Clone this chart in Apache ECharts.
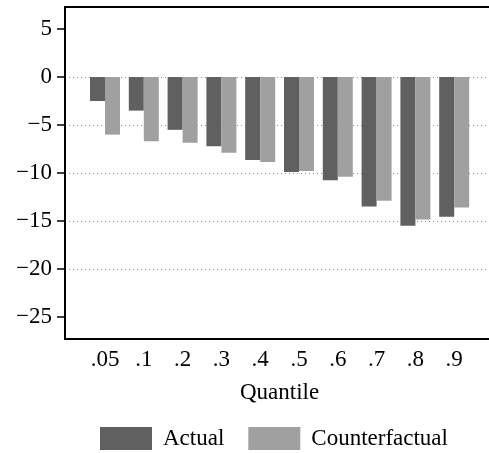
<!DOCTYPE html>
<html>
<head>
<meta charset="utf-8">
<script src="https://cdn.jsdelivr.net/npm/echarts@6/dist/echarts.min.js"></script>
<style>
  html, body { margin: 0; padding: 0; background: #fff; }
  #chart { width: 489px; height: 453px; }
</style>
</head>
<body>
<div id="chart"></div>
<script>
// quantile categories and the two series
const quantiles = ['.05', '.1', '.2', '.3', '.4', '.5', '.6', '.7', '.8', '.9']
const actual = [-2.5, -3.5, -5.5, -7.2, -8.65, -9.9, -10.75, -13.5, -15.5, -14.55]
const counterfactual = [-6.0, -6.7, -6.85, -7.9, -8.85, -9.8, -10.4, -12.9, -14.85, -13.6]
// y range of the plot region, tick range, gridline range
const yRange = [-27.3, 7.3]
const tickRange = [-25, 5]
const gridlineRange = [-20, 0]
const tickStep = 5

const font = "'Liberation Serif', 'Times New Roman', serif"
const chart = echarts.init(document.getElementById('chart'))

const blackLine = { show: true, lineStyle: { color: '#000', width: 2 } }
const hidden = { show: false }
const minus = v => String(v).replace('-', '\u2212')

const option = {
  animation: false,
  textStyle: { fontFamily: font },
  grid: [
    // frame
    { left: 65, right: -10, top: 7, bottom: 114, outerBoundsMode: 'none' },
    // tick labels
    { left: 65, right: -10, top: 29, height: 288, outerBoundsMode: 'none' },
    // dotted gridlines
    { left: 65, right: -10, top: 77, height: 192, outerBoundsMode: 'none' },
    // bars
    { left: 85.6, width: 388, top: 7, bottom: 114, outerBoundsMode: 'none' }
  ],
  xAxis: [
    { gridIndex: 0, type: 'value', position: 'bottom', min: 0, max: 1, axisLine: blackLine, axisTick: hidden, axisLabel: hidden, splitLine: hidden },
    { gridIndex: 0, type: 'value', position: 'top', min: 0, max: 1, axisLine: blackLine, axisTick: hidden, axisLabel: hidden, splitLine: hidden },
    { gridIndex: 1, type: 'value', show: false },
    { gridIndex: 2, type: 'value', show: false },
    {
      gridIndex: 3, type: 'category', data: quantiles,
      axisLine: hidden, axisTick: hidden, splitLine: hidden,
      axisLabel: { color: '#000', fontSize: 23, fontFamily: font, margin: 9 },
      name: 'Quantile', nameLocation: 'middle', nameGap: 42,
      nameTextStyle: { color: '#000', fontSize: 23, fontFamily: font }
    }
  ],
  yAxis: [
    { gridIndex: 0, type: 'value', min: 0, max: 1, axisLine: blackLine, axisTick: hidden, axisLabel: hidden, splitLine: hidden },
    {
      gridIndex: 1, type: 'value', min: tickRange[0], max: tickRange[1], interval: tickStep,
      axisLine: hidden, splitLine: hidden,
      axisTick: { show: true, length: 8, lineStyle: { color: '#000', width: 1.5 } },
      axisLabel: { color: '#000', fontSize: 23, fontFamily: font, margin: 13, formatter: minus }
    },
    {
      gridIndex: 2, type: 'value', min: gridlineRange[0], max: gridlineRange[1], interval: tickStep,
      axisLine: hidden, axisTick: hidden, axisLabel: hidden,
      splitLine: { show: true, lineStyle: { color: '#8c8c8c', width: 1, type: [1, 3] } }
    },
    { gridIndex: 3, type: 'value', min: yRange[0], max: yRange[1], show: false }
  ],
  legend: {
    left: 100, top: 427, padding: 0,
    icon: 'rect', itemWidth: 52, itemHeight: 23, itemGap: 24,
    textStyle: { color: '#000', fontSize: 23, fontFamily: font, padding: [0, 0, 0, 6] },
    data: ['Actual', 'Counterfactual']
  },
  series: [
    {
      name: 'Actual', type: 'bar', xAxisIndex: 4, yAxisIndex: 3,
      data: actual, barWidth: 15, barGap: '0%',
      itemStyle: { color: '#606060' }
    },
    {
      name: 'Counterfactual', type: 'bar', xAxisIndex: 4, yAxisIndex: 3,
      data: counterfactual, barWidth: 15, barGap: '0%',
      itemStyle: { color: '#a0a0a0' }
    }
  ]
}

chart.setOption(option)
</script>
</body>
</html>
